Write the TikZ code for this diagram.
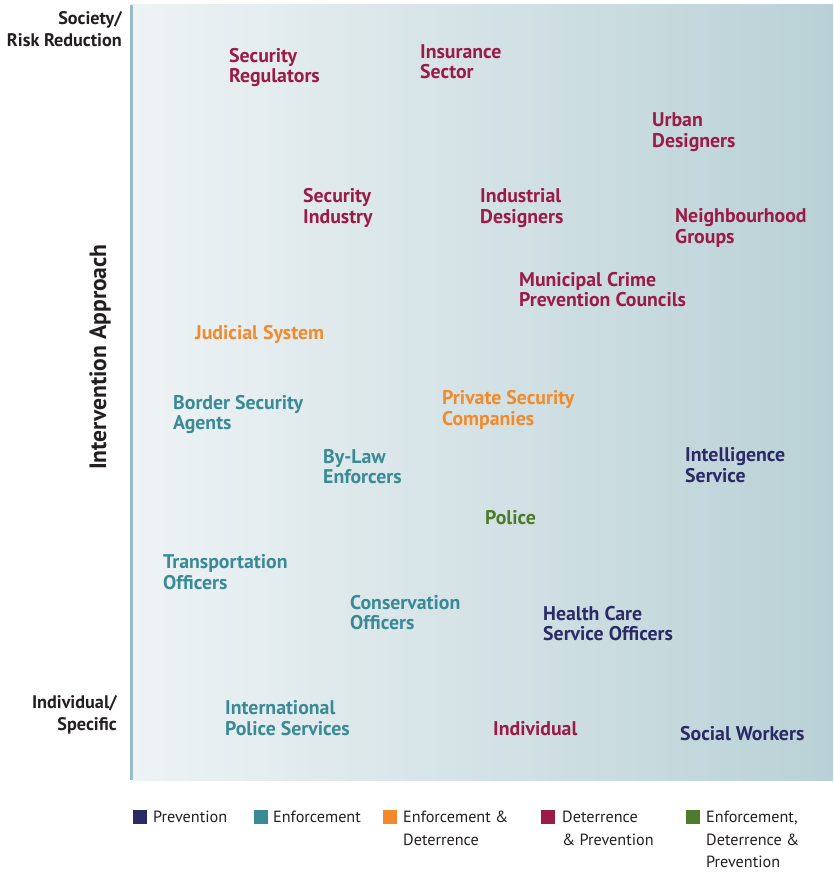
\documentclass[tikz,border=0pt]{standalone}
\usepackage{fontspec}
\setmainfont{PT Sans}
\definecolor{mPrev}{HTML}{2B2A66}
\definecolor{mEnf}{HTML}{3A8A95}
\definecolor{mEnfDet}{HTML}{F28A2B}
\definecolor{mDetPrev}{HTML}{9B1B47}
\definecolor{mAll}{HTML}{4E7A2C}
\definecolor{mAxis}{HTML}{9CBCC5}
\definecolor{mBgLeft}{HTML}{EEF3F5}
\definecolor{mBgRight}{HTML}{B9D1D6}
\definecolor{mInk}{HTML}{231F20}
\begin{document}
\begin{tikzpicture}[x=1pt,y=-1pt,
  lbl/.style={anchor=west, align=left, inner sep=0pt, yshift=-1.5pt, font=\fontsize{19.8}{20.5}\selectfont\bfseries},
  end/.style={anchor=east, align=right, inner sep=0pt, text=mInk, font=\fontsize{18.2}{22}\selectfont\bfseries},
  key/.style={anchor=west, align=left, inner sep=0pt, text=mInk, font=\fontsize{16.2}{22.5}\selectfont},
  swatch/.style={anchor=north west, inner sep=0pt, minimum size=14pt}]
\useasboundingbox (0,0) rectangle (833,872);
% panel and axis
\shade[left color=mBgLeft, right color=mBgRight] (131,5) rectangle (833,780);
\draw[mAxis, line width=3pt] (131,5) -- (131,780);
\node[end] (top) at (122,29) {Society/\\Risk Reduction};
\node[end] (bot) at (117,715) {Individual/\\Specific};
\node[rotate=90, inner sep=0pt, text=mInk, font=\fontsize{23.6}{26}\selectfont\bfseries] (yaxis) at (100,357) {Intervention Approach};
% deterrence & prevention
\node[lbl, text=mDetPrev] (regul) at (229,66) {Security\\Regulators};
\node[lbl, text=mDetPrev] (insur) at (420,60) {Insurance\\Sector};
\node[lbl, text=mDetPrev] (urban) at (652,130.5) {Urban\\Designers};
\node[lbl, text=mDetPrev] (secind) at (303,206.5) {Security\\Industry};
\node[lbl, text=mDetPrev] (indus) at (480,206.5) {Industrial\\Designers};
\node[lbl, text=mDetPrev] (neigh) at (675,226.5) {Neighbourhood\\Groups};
\node[lbl, text=mDetPrev] (munic) at (519,288) {Municipal Crime\\Prevention Councils};
\node[lbl, text=mDetPrev] (indiv) at (493,727) {Individual};
% enforcement & deterrence
\node[lbl, text=mEnfDet] (judic) at (195,333) {Judicial System};
\node[lbl, text=mEnfDet] (priv) at (442,408.5) {Private Security\\Companies};
% enforcement
\node[lbl, text=mEnf] (border) at (173,413) {Border Security\\Agents};
\node[lbl, text=mEnf] (bylaw) at (323,465) {By-Law\\Enforcers};
\node[lbl, text=mEnf] (transp) at (163,570.5) {Transportation\\Officers};
\node[lbl, text=mEnf] (conserv) at (350,611) {Conservation\\Officers};
\node[lbl, text=mEnf] (interpol) at (225,716.5) {International\\Police Services};
% prevention
\node[lbl, text=mPrev] (intel) at (685,463.5) {Intelligence\\Service};
\node[lbl, text=mPrev] (health) at (543,622) {Health Care\\Service Officers};
\node[lbl, text=mPrev] (social) at (680,732) {Social Workers};
% all three
\node[lbl, text=mAll] (police) at (485,516) {Police};
% legend
\node[swatch, fill=mPrev] (kPrev) at (133,810) {};
\node[key] (tPrev) at (153,817) {Prevention};
\node[swatch, fill=mEnf] (kEnf) at (254,810) {};
\node[key] (tEnf) at (273,817) {Enforcement};
\node[swatch, fill=mEnfDet] (kEnfDet) at (383,810) {};
\node[key] (tEnfDet) at (403,828.5) {Enforcement \&\\Deterrence};
\node[swatch, fill=mDetPrev] (kDetPrev) at (541,810) {};
\node[key] (tDetPrev) at (562,828.5) {Deterrence\\\& Prevention};
\node[swatch, fill=mAll] (kAll) at (686,810) {};
\node[key] (tAll) at (706,839.5) {Enforcement,\\Deterrence \&\\Prevention};
\end{tikzpicture}
\end{document}
